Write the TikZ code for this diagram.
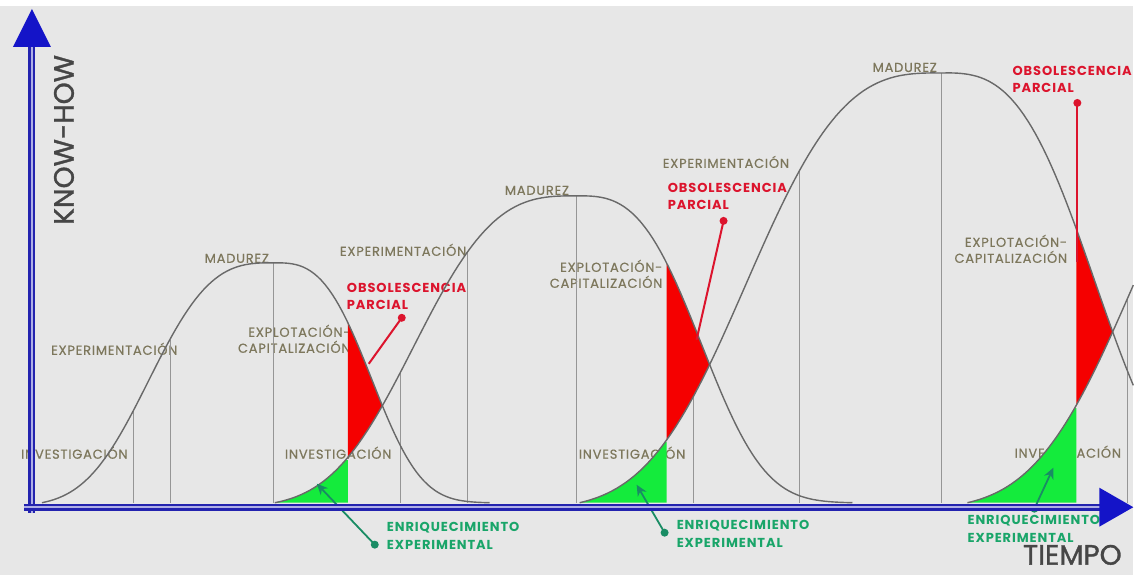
\documentclass[tikz,border=0pt]{standalone}
\usepackage{fontspec}
\setmainfont{Poppins}
\newfontfamily\lblfont[LetterSpace=6,FakeBold=0.5]{Poppins}
\newfontfamily\ptrfont[LetterSpace=7]{Poppins}
\newfontfamily\axfont[FakeBold=1.2]{Poppins}
\usetikzlibrary{arrows.meta}
\definecolor{bg}{RGB}{231,231,231}
\definecolor{olive}{RGB}{125,119,92}
\definecolor{curvec}{RGB}{105,105,105}
\definecolor{vlinec}{RGB}{150,150,150}
\definecolor{redfill}{RGB}{245,0,0}
\definecolor{redtext}{RGB}{220,20,45}
\definecolor{greenfill}{RGB}{20,235,60}
\definecolor{greentext}{RGB}{25,165,105}
\definecolor{greenarrow}{RGB}{25,140,100}
\definecolor{axisblue}{RGB}{35,35,175}
\definecolor{axislight}{RGB}{175,175,230}
\definecolor{headblue}{RGB}{20,20,200}
\definecolor{darktext}{RGB}{70,70,70}
\newcommand\pathA{plot[domain=42:274,samples=60] (\x,{cAL(\x)}) -- plot[domain=274:490,samples=60] (\x,{cAR(\x)})}
\newcommand\pathB{plot[domain=275:577,samples=70] (\x,{cBL(\x)}) -- plot[domain=577:853,samples=70] (\x,{cBR(\x)})}
\newcommand\pathC{plot[domain=580:942,samples=80] (\x,{cCL(\x)}) -- plot[domain=942:1134,samples=50] (\x,{cCR(\x)})}
\newcommand\pathD{plot[domain=968:1134,samples=50] (\x,{cDL(\x)})}
\begin{document}
\begin{tikzpicture}[x=1pt,y=-1pt,
  declare function={
    bell(\x,\y,\z)=(exp(-((\x/\y)^3))-\z)/(1-\z);
    cAL(\x)=503-240*bell(274-\x,143.8,0.015);
    cAR(\x)=503-240*bell(\x-274,112.3,0.0008);
    cBL(\x)=503-307*bell(577-\x,187.2,0.015);
    cBR(\x)=503-307*bell(\x-577,143.5,0.0008);
    cCL(\x)=503-430*bell(942-\x,224.4,0.015);
    cCR(\x)=503-430*bell(\x-942,176,0);
    cDL(\x)=503-430*bell(1330-\x,224.4,0.015);
  },
  curve/.style={draw=curvec,line width=1.4pt},
  vline/.style={draw=vlinec,line width=0.7pt},
  lbl/.style={text=olive,font=\lblfont\fontsize{13}{16}\selectfont,inner sep=0pt},
  rlbl/.style={text=redtext,font=\ptrfont\bfseries\fontsize{13}{17}\selectfont,inner sep=0pt,align=left},
  glbl/.style={text=greentext,font=\ptrfont\bfseries\fontsize{13}{18}\selectfont,inner sep=0pt,align=left},
  rdot/.style={circle,fill=redtext,inner sep=0pt,minimum size=8pt},
  gdot/.style={circle,fill=greenarrow,inner sep=0pt,minimum size=8pt},
  rline/.style={draw=redtext,line width=2pt},
  garrow/.style={draw=greenarrow,line width=1.8pt,-{Stealth[length=11pt,width=10pt]}},
  axisline/.style={draw=axisblue,double=axislight,line width=2.5pt,double distance=2pt},
  axlbl/.style={text=darktext,font=\axfont\fontsize{28}{32}\selectfont,inner sep=0pt}
]
% background
\fill[bg] (0,0) rectangle (1134,575);
\fill[white] (0,0) rectangle (1134,6);

% labels curve 1
\node[lbl,anchor=base west] (inv1) at (21,459) {INVESTIGACIÓN};
\node[lbl,anchor=base west] (exp1) at (51,355) {EXPERIMENTACIÓN};
\node[lbl,anchor=base] (mad1) at (237,263) {MADUREZ};
\node[lbl,anchor=base east,align=right] (cap1) at (351,353) {EXPLOTACIÓN-\\CAPITALIZACIÓN};
\node[rlbl,anchor=base west] (obs1) at (347,310) {OBSOLESCENCIA\\PARCIAL};
\node[glbl,anchor=base west] (enr1) at (387,550) {ENRIQUECIMIENTO\\EXPERIMENTAL};
% labels curve 2
\node[lbl,anchor=base west] (inv2) at (285,459) {INVESTIGACIÓN};
\node[lbl,anchor=base west] (exp2) at (340,256) {EXPERIMENTACIÓN};
\node[lbl,anchor=base west] (mad2) at (505,195) {MADUREZ};
\node[lbl,anchor=base east,align=right] (cap2) at (663,288) {EXPLOTACIÓN-\\CAPITALIZACIÓN};
\node[rlbl,anchor=base west] (obs2) at (668,210) {OBSOLESCENCIA\\PARCIAL};
\node[glbl,anchor=base west] (enr2) at (677,548) {ENRIQUECIMIENTO\\EXPERIMENTAL};
% labels curve 3
\node[lbl,anchor=base west] (inv3) at (579,459) {INVESTIGACIÓN};
\node[lbl,anchor=base west] (exp3) at (663,168) {EXPERIMENTACIÓN};
\node[lbl,anchor=base west] (mad3) at (873,72) {MADUREZ};
\node[lbl,anchor=base east,align=right] (cap3) at (1068,263) {EXPLOTACIÓN-\\CAPITALIZACIÓN};
\node[rlbl,anchor=base west] (obs3) at (1013,93) {OBSOLESCENCIA\\PARCIAL};
\node[glbl,anchor=base west] (enr3) at (968,543) {ENRIQUECIMIENTO\\EXPERIMENTAL};
% label curve 4
\node[lbl,anchor=base west] (inv4) at (1015,458) {INVESTIGACIÓN};

% vertical phase lines
\draw[vline] (133,{cAL(133)}) -- (133,503);
\draw[vline] (170,{cAL(170)}) -- (170,503);
\draw[vline] (274,{cAL(274)}) -- (274,503);
\draw[vline] (401,{cBL(401)}) -- (401,503);
\draw[vline] (468,{cBL(468)}) -- (468,503);
\draw[vline] (577,{cBL(577)}) -- (577,503);
\draw[vline] (694,{cCL(694)}) -- (694,503);
\draw[vline] (800,{cCL(800)}) -- (800,503);
\draw[vline] (942,{cCL(942)}) -- (942,503);
\draw[vline] (1128,{cDL(1128)}) -- (1128,503);

% red regions (partial obsolescence)
\begin{scope}
  \clip (348,0) rectangle (1134,503);
  \clip \pathA -- cycle;
  \fill[redfill] \pathB -- (853,0) -- (275,0) -- cycle;
\end{scope}
\begin{scope}
  \clip (667,0) rectangle (1134,503);
  \clip \pathB -- cycle;
  \fill[redfill] \pathC -- (1134,0) -- (580,0) -- cycle;
\end{scope}
\begin{scope}
  \clip (1077,0) rectangle (1134,503);
  \clip \pathC -- (1134,503) -- cycle;
  \fill[redfill] \pathD -- (1134,0) -- (968,0) -- cycle;
\end{scope}
% green regions (experimental enrichment)
\begin{scope}
  \clip (270,{cBL(348)+3}) rectangle (348,505);
  \fill[greenfill] \pathB -- cycle;
\end{scope}
\begin{scope}
  \clip (575,{cCL(667)+3}) rectangle (667,505);
  \fill[greenfill] \pathC -- (1134,503) -- cycle;
\end{scope}
\begin{scope}
  \clip (960,{cDL(1077)+3}) rectangle (1077,505);
  \fill[greenfill] \pathD -- (1134,503) -- cycle;
\end{scope}

% curves
\draw[curve] \pathA;
\draw[curve] \pathB;
\draw[curve] \pathC;
\draw[curve] \pathD;

% pointers
\node[rdot] (pA) at (402,318) {};
\coordinate (pAe) at (369,364);
\draw[rline] (pA.center) -- (pAe);
\node[rdot] (pB) at (724,221) {};
\coordinate (pBe) at (697,340);
\draw[rline] (pB.center) -- (pBe);
\node[rdot] (pC) at (1078,103) {};
\coordinate (pCe) at (1078,262);
\draw[rline] (pC.center) -- (pCe);
\node[gdot] (gA) at (375,545) {};
\coordinate (gAe) at (317,484);
\draw[garrow] (gA.center) -- (gAe);
\node[gdot] (gB) at (665,533) {};
\coordinate (gBe) at (637,485);
\draw[garrow] (gB.center) -- (gBe);
\node[gdot] (gC) at (1035,509) {};
\coordinate (gCe) at (1054,468);
\draw[garrow] (gC.center) -- (gCe);

% axes
\coordinate (o1) at (32,513);
\coordinate (ytop) at (32,46);
\coordinate (o2) at (24,507.5);
\coordinate (xend) at (1101,507.5);
\draw[axisline] (o1) -- (ytop);
\draw[axisline] (o2) -- (xend);
\fill[headblue] (13,47) -- (51,47) -- (32,9) -- cycle;
\fill[headblue] (1100,488) -- (1100,527) -- (1134,507.5) -- cycle;
\node[axlbl,rotate=90] (kh) at (64,140) {KNOW-HOW};
\node[axlbl,anchor=base] (tp) at (1073,565) {TIEMPO};
\end{tikzpicture}
\end{document}
